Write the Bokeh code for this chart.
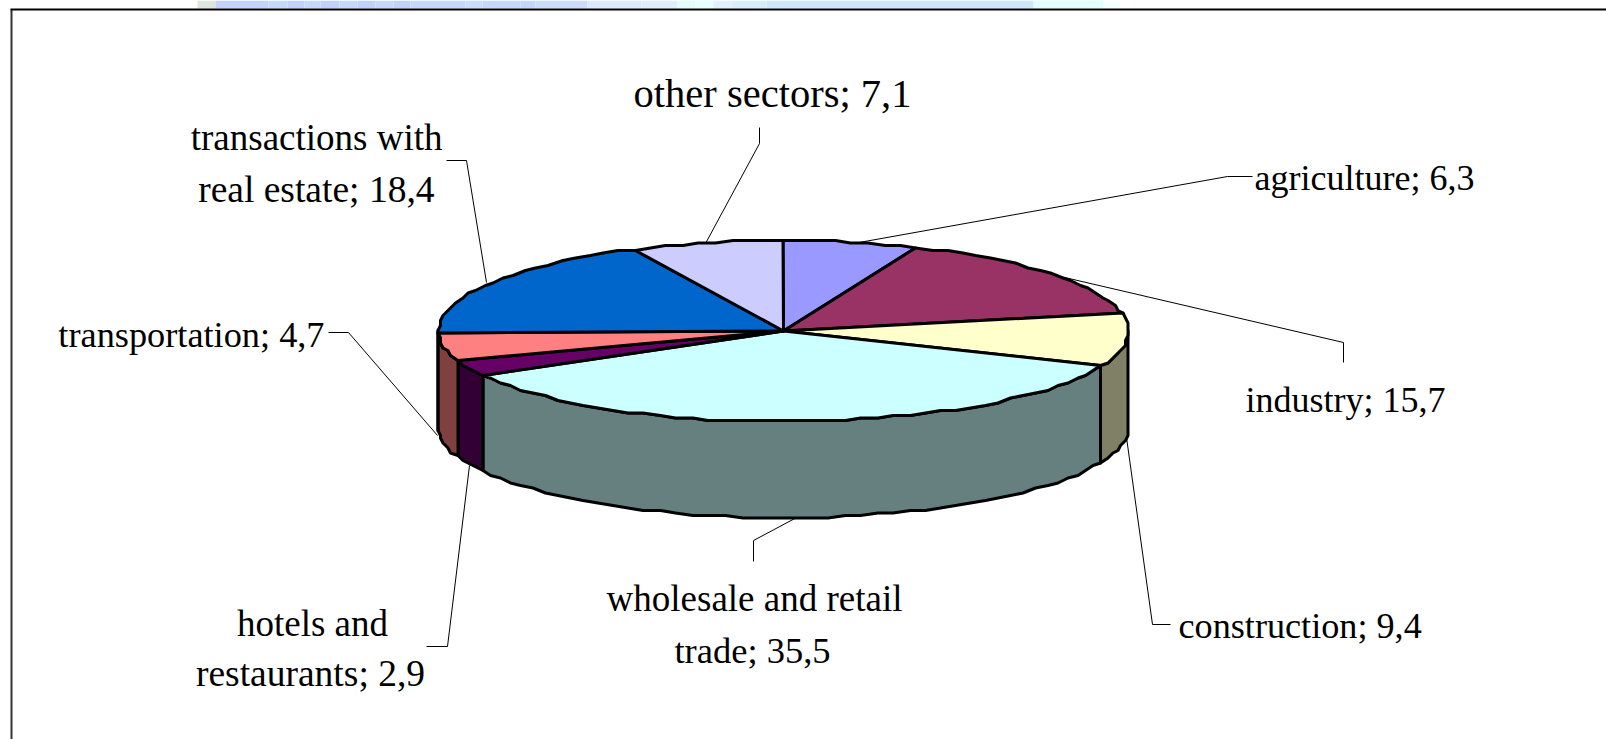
import math
from bokeh.plotting import figure
from bokeh.embed import file_html
from bokeh.resources import INLINE
from bokeh.core.properties import value

# ---- data ----
sectors = ["agriculture", "industry", "construction", "wholesale and retail trade",
           "hotels and restaurants", "transportation", "transactions with real estate", "other sectors"]
shares = [6.3, 15.7, 9.4, 35.5, 2.9, 4.7, 18.4, 7.1]
share_labels = ["6,3", "15,7", "9,4", "35,5", "2,9", "4,7", "18,4", "7,1"]
top_colors = ["#9999FF", "#993366", "#FFFFCC", "#CCFFFF", "#660066", "#FF8080", "#0066CC", "#CCCCFF"]
side_colors = ["#4D4D80", "#4D1A33", "#808066", "#668080", "#330033", "#804040", "#003366", "#666680"]

# ---- layout (page pixels) ----
W, H = 1606, 739
CX, CY, RX, RY, DEPTH = 783, 330.5, 345, 90.5, 96
GRID = 2.5

# label lines: text, x, y, alignment, size
label_lines = [
    ("other sectors; 7,1", 772, 93, "center", 40.5),
    ("transactions with", 442, 137, "right", 37),
    ("real estate; 18,4", 434, 189, "right", 37.5),
    ("agriculture; 6,3", 1254, 177, "left", 36),
    ("industry; 15,7", 1245, 399, "left", 36),
    ("construction; 9,4", 1178, 625, "left", 36.2),
    ("wholesale and retail", 754, 598, "center", 37),
    ("trade; 35,5", 752, 650, "center", 36.5),
    ("hotels and", 312, 623, "center", 37),
    ("restaurants; 2,9", 310, 673, "center", 37.5),
    ("transportation; 4,7", 324, 334, "right", 36.3),
]
leaders = [
    [(759, 127), (759, 143), (705, 243)],
    [(1252, 176), (1227, 176), (853, 243)],
    [(1343, 362), (1343, 342), (1060, 276)],
    [(1170, 624), (1152, 624), (1126, 437)],
    [(753, 561), (753, 540), (800, 515)],
    [(426, 646), (447, 646), (469, 465)],
    [(328, 332), (348, 332), (437, 435)],
    [(446, 160), (466, 160), (486, 282)],
]
strip_x = [197, 215, 268, 287, 304, 320, 339, 357, 375, 393, 410, 465, 482, 520, 535, 587, 641,
           677, 695, 713, 731, 766, 1033, 1103, 1120]
strip_c = ["#DFE5DF", "#C3D3FA", "#C5D9FD", "#C1D1FA", "#C5D9FD", "#C1D1FA", "#C5D9FD", "#C1D1FA",
           "#C5D9FD", "#C1D1FA", "#C5D9FD", "#CADEFD", "#C5D9FD", "#C3D6FB", "#CCDDFC", "#DAEBFD",
           "#DFEDFD", "#E3FDFF", "#E6FFFF", "#E0F0FD", "#D8EDFD", "#CCE8FD", "#E0FFFF", "#F5FFFF"]


def pt(deg, dz=0.0):
    a = math.radians(deg)
    x = CX + RX * math.sin(a)
    y = CY - RY * math.cos(a) + dz
    return (round(x / GRID) * GRID, round(y / GRID) * GRID)


def arc(a0, a1, dz=0.0):
    n = max(2, int(abs(a1 - a0) / 2.8) + 1)
    return [pt(a0 + (a1 - a0) * i / (n - 1), dz) for i in range(n)]


total = sum(shares)
edges = [0.0]
for s in shares:
    edges.append(edges[-1] + s / total * 360)

p = figure(width=W, height=H, x_range=(0, W), y_range=(H, 0), toolbar_location=None,
           output_backend="svg", min_border=0, outline_line_color=None, background_fill_color="#FFFFFF",
           border_fill_color="#FFFFFF")
p.axis.visible = False
p.grid.visible = False

# decorative strip above the frame
p.quad(left=strip_x[:-1], right=strip_x[1:], top=0, bottom=8, fill_color=strip_c, line_color=None)
# frame
p.line([11, 11], [9, H], line_color="#333333", line_width=2)
p.line([10, W], [9, 9], line_color="#000000", line_width=2)

# leader lines (behind pie)
for pts in leaders:
    p.line([a for a, _ in pts], [b for _, b in pts], line_color="#000000", line_width=1)

# side walls of the front half
side_xs, side_ys, side_fc = [], [], []
for i in range(len(shares)):
    a0, a1 = max(edges[i], 90), min(edges[i + 1], 270)
    if a1 <= a0:
        continue
    top = arc(a0, a1)
    bot = arc(a1, a0, DEPTH)
    side_xs.append([q[0] for q in top + bot])
    side_ys.append([q[1] for q in top + bot])
    side_fc.append(side_colors[i])
p.patches(side_xs, side_ys, fill_color=side_fc, line_color="#000000", line_width=3, line_join="round")

# top face slices
top_xs, top_ys = [], []
for i in range(len(shares)):
    ring = [(CX, CY)] + arc(edges[i], edges[i + 1])
    top_xs.append([q[0] for q in ring])
    top_ys.append([q[1] for q in ring])
p.patches(top_xs, top_ys, fill_color=top_colors, line_color="#000000", line_width=3, line_join="round")

for t, x, y, a, s in label_lines:
    p.text([x], [y], text=[t], text_align=a, text_baseline="middle", text_color="#000000",
           text_font=value("Liberation Serif"), text_font_size=f"{s}px")

open("out.html", "w").write(file_html(p, INLINE))
